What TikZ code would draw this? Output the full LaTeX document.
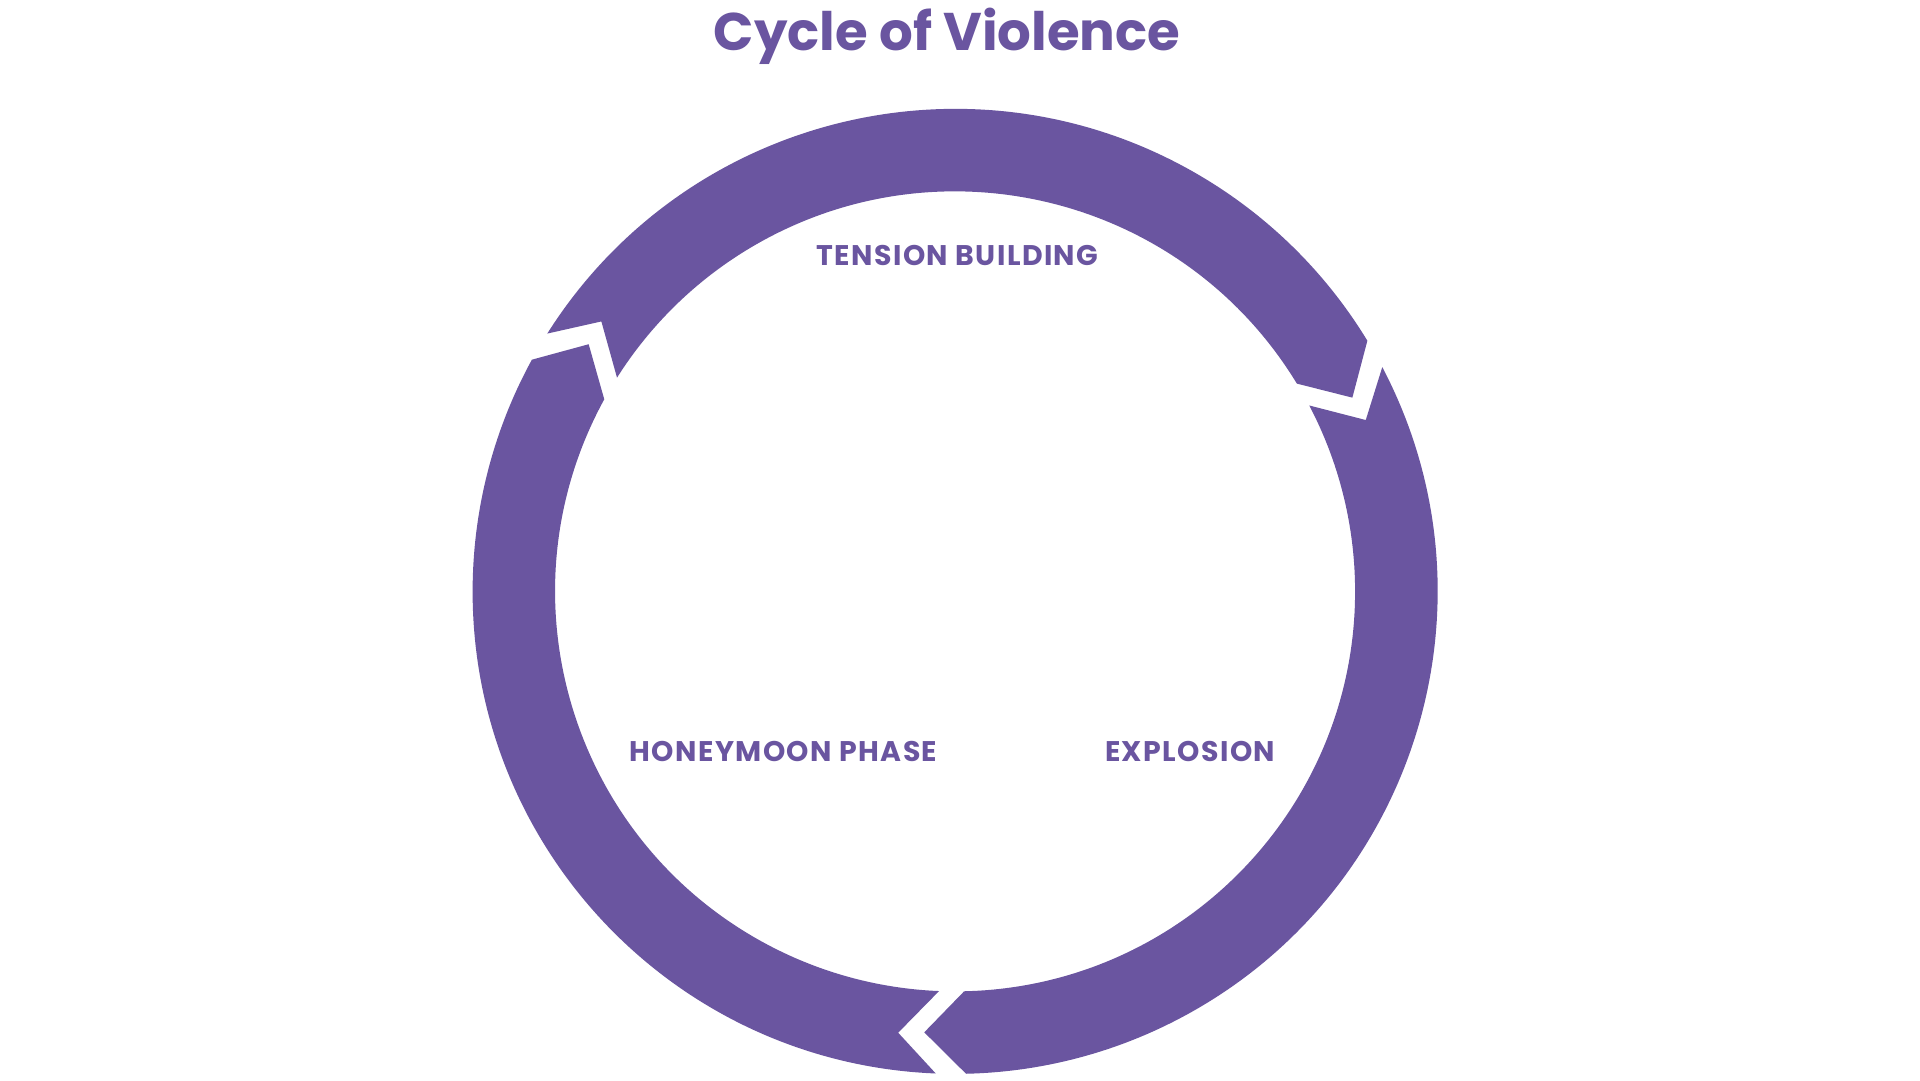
\documentclass[tikz,border=0pt]{standalone}
\usepackage{fontspec}
\setmainfont{Poppins}
\newfontfamily\labelfont{Poppins}[LetterSpace=5]
\definecolor{cycpurple}{RGB}{106,85,160}
\begin{document}
\begin{tikzpicture}[x=1pt,y=1pt,
  titletext/.style={text=cycpurple,inner sep=0pt,font=\fontsize{53}{62}\selectfont\bfseries},
  phaselabel/.style={text=cycpurple,inner sep=0pt,font=\labelfont\fontsize{28.4}{33}\selectfont\bfseries},
  ringarrow/.style={fill=cycpurple}]
\useasboundingbox (0,0) rectangle (1920,1080);
\fill[white] (0,0) rectangle (1920,1080);
\coordinate (C) at (955.1,488.6);
\def\Ro{482.5}\def\Ri{400}\def\Rt{442}\def\Rn{445}
\foreach \t/\h in {147.7/31.3, 27.7/-88.7, -92.3/-208.7}{
  \pgfmathsetmacro\hd{\h-5.3}
  \pgfmathsetmacro\td{\t-5.05}
  \fill[ringarrow] ([shift={(\t:\Ro pt)}]C) arc[start angle=\t, end angle=\h, radius=\Ro pt]
    -- ([shift={(\hd:\Rt pt)}]C) -- ([shift={(\h:\Ri pt)}]C)
    arc[start angle=\h, end angle=\t, radius=\Ri pt]
    -- ([shift={(\td:\Rn pt)}]C) -- cycle;
}
\node[titletext,anchor=base] (title) at (947,1029.5) {Cycle of Violence};
\node[phaselabel] (tension) at (957.6,824.5) {TENSION BUILDING};
\node[phaselabel] (honeymoon) at (783.5,328.2) {HONEYMOON PHASE};
\node[phaselabel] (explosion) at (1190.2,328.2) {EXPLOSION};
\end{tikzpicture}
\end{document}
